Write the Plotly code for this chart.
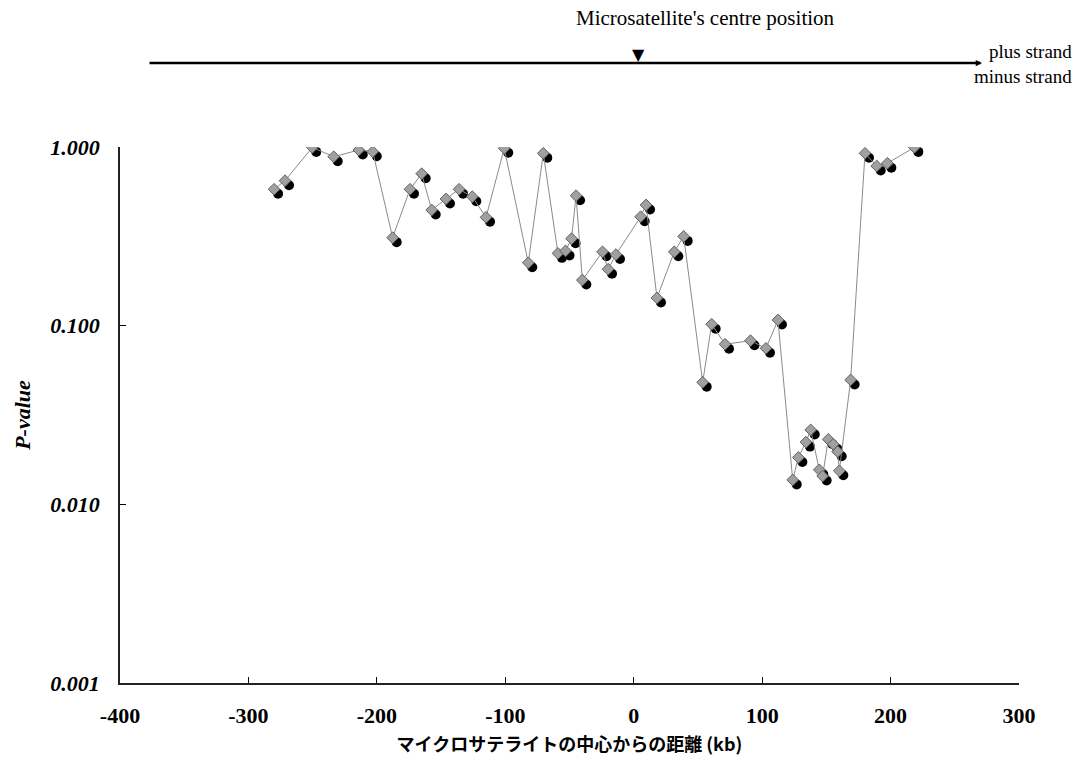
import plotly.graph_objects as go

# ---- data ----
distance_kb = [-280.0, -271.5, -250.3, -233.6, -214.1, -203.2, -187.7, -174.2, -165.1, -157.3,
               -146.2, -136.0, -125.7, -115.0, -100.8, -82.1, -70.4, -59.0, -53.1, -48.4,
               -44.9, -40.0, -24.3, -20.0, -13.8, 5.4, 9.6, 18.1, 31.6, 38.9,
               53.7, 60.7, 71.1, 90.9, 103.0, 112.3, 123.8, 128.2, 134.1, 137.8,
               144.5, 147.1, 151.5, 155.4, 158.8, 160.1, 168.9, 180.1, 189.2, 197.5,
               218.5]
p_value = [0.580, 0.648, 0.995, 0.882, 0.962, 0.941, 0.311, 0.580, 0.709, 0.444,
           0.512, 0.580, 0.527, 0.404, 0.983, 0.225, 0.922, 0.254, 0.262, 0.307,
           0.534, 0.180, 0.259, 0.207, 0.250, 0.407, 0.474, 0.143, 0.259, 0.316,
           0.0482, 0.1018, 0.0787, 0.0824, 0.0747, 0.1076, 0.0137, 0.0183, 0.0223, 0.0261,
           0.0156, 0.0144, 0.0231, 0.0217, 0.0197, 0.0154, 0.0497, 0.922, 0.783, 0.811,
           0.995]

x_ticks = [-400, -300, -200, -100, 0, 100, 200, 300]
x_ticktext = ["-400", "-300", "-200", "-100", "0", "100", "200", "300"]
y_ticks = [0.001, 0.01, 0.1, 1.0]
y_ticktext = ["0.001", "0.010", "0.100", "1.000"]

x_title = "マイクロサテライトの中心からの距離 (kb)"
y_title = "P-value"
centre_label = "Microsatellite's centre position"
plus_label = "plus strand"
minus_label = "minus strand"

# ---- layout geometry ----
W, H = 1088, 771
L, R, T, B = 120, 1088 - 1019, 147, 771 - 683
PW, PH = W - L - R, H - T - B
X_RANGE = [-400, 300]
Y_RANGE = [-3, 0]
# shadow offset (pixels) of the black circles
DX_PX, DY_PX = 4, 4.5
dx = DX_PX * (X_RANGE[1] - X_RANGE[0]) / PW
dy = DY_PX * (Y_RANGE[1] - Y_RANGE[0]) / PH


def px_x(p):
    return (p - L) / PW


def px_y(p):
    return (H - B - p) / PH


SERIF = "Liberation Serif"

fig = go.Figure()

# black "shadow" circles on hidden, slightly shifted axes
fig.add_trace(go.Scatter(
    x=distance_kb, y=p_value, mode="markers",
    marker=dict(symbol="circle", size=10, color="black"),
    xaxis="x", yaxis="y", showlegend=False, hoverinfo="skip"))

# main series: grey line + grey markers on the visible axes
fig.add_trace(go.Scatter(
    x=distance_kb, y=p_value, mode="lines+markers",
    line=dict(color="#8a8a8a", width=1),
    marker=dict(symbol="diamond", size=9, color="#a0a0a0",
                line=dict(color="#606060", width=1)),
    xaxis="x2", yaxis="y2", showlegend=False))

fig.update_layout(
    width=W, height=H,
    margin=dict(l=L, r=R, t=T, b=B, autoexpand=False),
    paper_bgcolor="white", plot_bgcolor="white",
    showlegend=False,
    xaxis=dict(range=[X_RANGE[0] - dx, X_RANGE[1] - dx], visible=False, fixedrange=True),
    yaxis=dict(type="log", range=[Y_RANGE[0] + dy, Y_RANGE[1] + dy], visible=False, fixedrange=True),
    xaxis2=dict(
        overlaying="x", anchor="y2", side="bottom",
        range=X_RANGE, tickmode="array", tickvals=x_ticks, ticktext=x_ticktext,
        ticks="inside", ticklen=6, tickwidth=1, tickcolor="black",
        showline=True, linecolor="#222", linewidth=1.5,
        showgrid=False, zeroline=False, automargin=False,
        ticklabelstandoff=12,
        tickfont=dict(family=SERIF, size=22, color="black", weight="bold"),
        title=dict(text=x_title, standoff=11,
                   font=dict(family="Noto Sans CJK JP", size=18, color="black", weight="bold")),
    ),
    yaxis2=dict(
        overlaying="y", anchor="x2", side="left", type="log",
        range=Y_RANGE, tickmode="array", tickvals=y_ticks, ticktext=y_ticktext,
        ticks="inside", ticklen=6, tickwidth=1, tickcolor="black",
        showline=True, linecolor="#222", linewidth=1.5,
        showgrid=False, zeroline=False, automargin=False,
        ticklabelstandoff=14,
        tickfont=dict(family=SERIF, size=22, color="black", weight="bold", style="italic"),
        title=dict(text=y_title, standoff=14,
                   font=dict(family=SERIF, size=22, color="black", weight="bold", style="italic")),
    ),
)

# strand line with arrow tip
fig.add_annotation(
    xref="paper", yref="paper", x=px_x(982), y=px_y(63),
    ax=148 - 982, ay=0, axref="pixel", ayref="pixel",
    showarrow=True, arrowhead=2, arrowsize=0.5, arrowwidth=2.5, arrowcolor="black", text="")
# centre position marker
fig.add_annotation(
    xref="paper", yref="paper", x=px_x(638), y=px_y(54), text="▼", showarrow=False,
    font=dict(family="DejaVu Sans", size=16, color="black"), xanchor="center", yanchor="middle")
fig.add_annotation(
    xref="paper", yref="paper", x=px_x(705), y=px_y(18), text=centre_label, showarrow=False,
    font=dict(family=SERIF, size=21, color="black"), xanchor="center", yanchor="middle")
fig.add_annotation(
    xref="paper", yref="paper", x=px_x(1074), y=px_y(52), text=plus_label, showarrow=False,
    font=dict(family=SERIF, size=19, color="black"), xanchor="right", yanchor="middle")
fig.add_annotation(
    xref="paper", yref="paper", x=px_x(1074), y=px_y(77), text=minus_label, showarrow=False,
    font=dict(family=SERIF, size=19, color="black"), xanchor="right", yanchor="middle")

fig.write_html("out.html")
